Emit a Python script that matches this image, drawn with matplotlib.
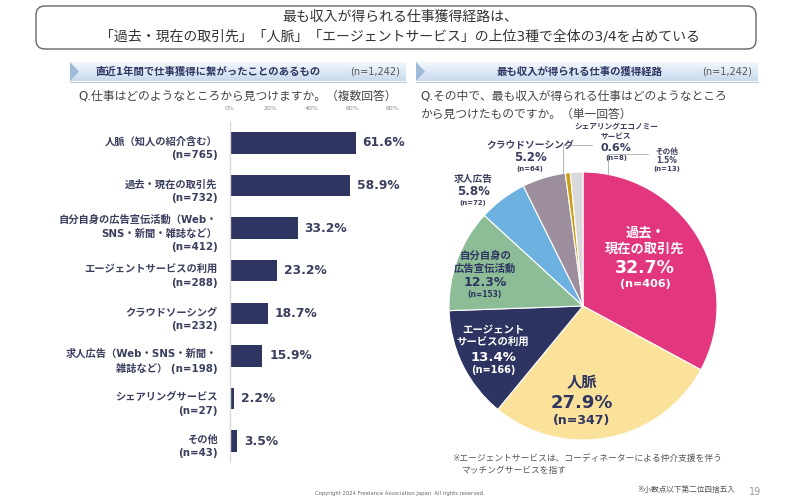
import matplotlib
matplotlib.use("Agg")
import matplotlib.pyplot as plt
from matplotlib.patches import FancyBboxPatch, Rectangle, Polygon
import numpy as np

plt.rcParams['font.family'] = ['DejaVu Sans', 'Noto Sans CJK JP']

# ---------------- data ----------------
bar_names = ["人脈（知人の紹介含む）", "過去・現在の取引先",
             "自分自身の広告宣伝活動（Web・\nSNS・新聞・雑誌など）",
             "エージェントサービスの利用", "クラウドソーシング",
             "求人広告（Web・SNS・新聞・\n雑誌など）", "シェアリングサービス", "その他"]
bar_counts = [765, 732, 412, 288, 232, 198, 27, 43]
bar_values = [61.6, 58.9, 33.2, 23.2, 18.7, 15.9, 2.2, 3.5]
bar_seps = ["\n", "\n", "\n", "\n", "\n", " ", "\n", "\n"]
bar_ticks = [0, 20, 40, 60, 80]

pie_names = ["過去・\n現在の取引先", "人脈", "エージェント\nサービスの利用", "自分自身の\n広告宣伝活動",
             "求人広告", "クラウドソーシング", "シェアリングエコノミー\nサービス", "その他"]
pie_values = [32.7, 27.9, 13.4, 12.3, 5.8, 5.2, 0.6, 1.5]
pie_counts = [406, 347, 166, 153, 72, 64, 8, 13]
pie_colors = ["#E2377F", "#FBE29A", "#2D3461", "#8CBD97", "#6DB1E1", "#9D8E9D", "#C9A016", "#D9D9D9"]

# ---------------- layout helpers ----------------
W, H = 800, 500
fig = plt.figure(figsize=(8, 5), dpi=100)
fig.patch.set_facecolor("white")

def rect(x0, y0, x1, y1):
    return [x0 / W, 1 - y1 / H, (x1 - x0) / W, (y1 - y0) / H]

ov = fig.add_axes([0, 0, 1, 1], zorder=0)
ov.set_xlim(0, W)
ov.set_ylim(H, 0)
ov.axis("off")

TXT = "#333333"
NAVY = "#2E3560"

# title box
ov.add_patch(FancyBboxPatch((36, 6), 720, 43, boxstyle="round,pad=0,rounding_size=9",
                            fc="white", ec="#666666", lw=1.0))
ov.text(400, 17, "最も収入が得られる仕事獲得経路は、", ha="center", va="center", fontsize=10, color=TXT)
ov.text(400, 36, "「過去・現在の取引先」「人脈」「エージェントサービス」の上位3種で全体の3/4を占めている",
        ha="center", va="center", fontsize=10, color=TXT)

# banners
def banner(x0, x1, title, tx, nx):
    n = 30
    for k in range(n):
        c = np.array([0.95, 0.97, 0.99]) * (1 - k / n) + np.array([0.78, 0.85, 0.93]) * (k / n)
        ov.add_patch(Rectangle((x0, 62 + k * 19 / n), x1 - x0, 19 / n + 0.3, fc=c, ec="none"))
    ov.add_patch(Polygon([[x0, 62], [x0 + 9, 71.5], [x0, 81]], closed=True, fc="#9FB9D8", ec="none"))
    ov.plot([x0, x1], [81.5, 81.5], color="#B9C9DA", lw=0.8)
    ov.text(tx, 71.5, title, ha="left", va="center", fontsize=7.5, fontweight="bold", color=NAVY)
    ov.text(nx, 72, "(n=1,242)", ha="left", va="center", fontsize=7, color="#555555")

banner(70, 406, "直近1年間で仕事獲得に繋がったことのあるもの", 95, 350)
banner(416, 758, "最も収入が得られる仕事の獲得経路", 497, 702)

ov.text(78, 96, "Q.仕事はどのようなところから見つけますか。（複数回答）", ha="left", va="center",
        fontsize=8.5, color="#444444")
ov.text(420, 96, "Q.その中で、最も収入が得られる仕事はどのようなところ", ha="left", va="center",
        fontsize=8.5, color="#444444")
ov.text(420, 114, "から見つけたものですか。（単一回答）", ha="left", va="center",
        fontsize=8.5, color="#444444")

# ---------------- bar chart ----------------
ax = fig.add_axes(rect(230, 121.7, 393, 462.3), zorder=1)
ax.patch.set_alpha(0)
ypos = np.arange(len(bar_values))
ax.barh(ypos, bar_values, height=0.5, color=NAVY)
ax.set_xlim(0, 80)
ax.set_ylim(len(bar_values) - 0.5, -0.5)
for s in ["top", "right", "bottom"]:
    ax.spines[s].set_visible(False)
ax.spines["left"].set_color("#D9D9D9")
ax.spines["left"].set_linewidth(1.0)
ax.xaxis.tick_top()
ax.set_xticks(bar_ticks)
ax.set_xticklabels([f"{t}%" for t in bar_ticks], fontsize=4.5, color="#888888")
ax.tick_params(axis="x", length=0, pad=8)
ax.set_yticks([])
for i, (v, name, n, sep) in enumerate(zip(bar_values, bar_names, bar_counts, bar_seps)):
    ax.annotate(f"{v}%", xy=(v, i), xytext=(5, 0), textcoords="offset points",
                ha="left", va="center", fontsize=8.8, fontweight="bold", color="#3A3F5E",
                annotation_clip=False)
    ax.annotate(f"{name}{sep}(n={n})", xy=(0, i), xytext=(-9, -4), textcoords="offset points",
                ha="right", va="center", fontsize=7.4, fontweight="bold", color="#3A3F5E",
                linespacing=1.45, annotation_clip=False)

# ---------------- pie chart ----------------
cx, cy, r = 583, 306, 134
pax = fig.add_axes(rect(cx - r, cy - r, cx + r, cy + r), zorder=1)
pax.pie(pie_values, colors=pie_colors, startangle=90, counterclock=False,
        wedgeprops=dict(edgecolor="white", linewidth=0.8))
pax.set_xlim(-1, 1)
pax.set_ylim(-1, 1)
pax.set_aspect("equal")
pax.axis("off")

ov2 = fig.add_axes([0, 0, 1, 1], zorder=2)
ov2.set_xlim(0, W)
ov2.set_ylim(H, 0)
ov2.axis("off")
ov2.patch.set_alpha(0)

# label anchors (layout): x, y of first line, name size, pct size, n size, color
pie_layout = [
    (645, 233, 9.5, 12.5, 8, "white"),
    (582, 383, 11, 13, 9, "#2E3560"),
    (493, 330, 7.5, 9.5, 7, "white"),
    (485, 256, 7.5, 9, 5.5, "#2E3560"),
    (473, 179, 7, 8.5, 5, "#3A3F5E"),
    (530, 145, 7, 8.5, 5, "#3A3F5E"),
    (616, 127, 5.5, 8, 5, "#3A3F5E"),
    (667, 151, 5.5, 5.5, 5, "#3A3F5E"),
]
for name, v, n, (x, y, fs1, fs2, fs3, col) in zip(pie_names, pie_values, pie_counts, pie_layout):
    lines = name.split("\n")
    step1 = fs1 * 1.39 * 1.25
    for k, ln in enumerate(lines):
        ov2.text(x, y + k * step1, ln, ha="center", va="center", fontsize=fs1,
                 fontweight="bold", color=col)
    yy = y + (len(lines) - 1) * step1 + (fs1 + fs2) * 0.5 * 1.39 * 1.2
    ov2.text(x, yy, f"{v}%", ha="center", va="center", fontsize=fs2, fontweight="bold", color=col)
    yy2 = yy + (fs2 + fs3) * 0.5 * 1.39 * 1.15
    ov2.text(x, yy2, f"(n={n})", ha="center", va="center", fontsize=fs3, fontweight="bold", color=col)

# leader lines
ov2.plot([563, 563, 592], [174, 145, 145], color="#AAAAAA", lw=0.6)
ov2.plot([608, 608, 648], [174, 154, 154], color="#AAAAAA", lw=0.6)

# footnotes
ov.text(452, 458, "※エージェントサービスは、コーディネーターによる仲介支援を伴う", ha="left", va="center",
        fontsize=6.3, color="#555555")
ov.text(461, 470, "マッチングサービスを指す", ha="left", va="center", fontsize=6.3, color="#555555")
ov.text(735, 489, "※小数点以下第二位四捨五入", ha="right", va="center", fontsize=5.5, color="#555555")
ov.text(755, 492, "19", ha="center", va="center", fontsize=7, color="#999999")
ov.text(400, 494, "Copyright 2024 Freelance Association Japan  All rights reserved.", ha="center",
        va="center", fontsize=3.8, color="#666666")

fig.savefig("out.png", dpi=100, facecolor="white")
